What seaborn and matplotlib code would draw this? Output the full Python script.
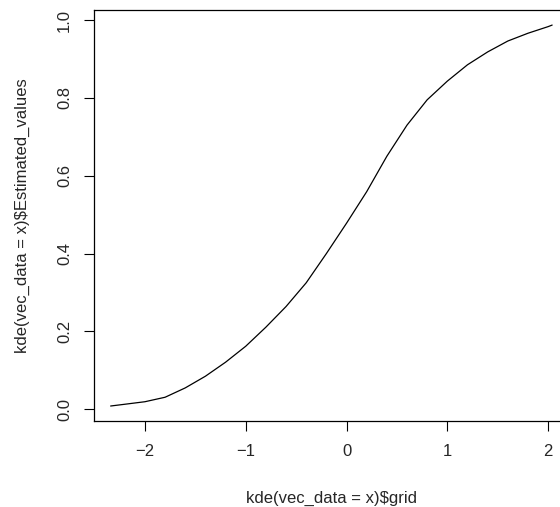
import matplotlib
matplotlib.use("Agg")
import matplotlib.pyplot as plt
import seaborn as sns
import pandas as pd

grid = [-2.34, -2.2, -2.0, -1.8, -1.6, -1.4, -1.2, -1.0, -0.8, -0.6, -0.4,
        -0.2, 0.0, 0.2, 0.4, 0.6, 0.8, 1.0, 1.2, 1.4, 1.6, 1.8, 2.0, 2.04]
estimated_values = [0.0085, 0.013, 0.0195, 0.031, 0.055, 0.085, 0.121, 0.162,
                    0.211, 0.264, 0.325, 0.400, 0.478, 0.559, 0.650, 0.730,
                    0.795, 0.843, 0.885, 0.918, 0.946, 0.966, 0.983, 0.987]
x_ticks = [-2, -1, 0, 1, 2]
y_ticks = [0.0, 0.2, 0.4, 0.6, 0.8, 1.0]

sns.set_style("white")
plt.rcParams['font.family'] = ['Liberation Sans', 'DejaVu Sans']

df = pd.DataFrame({"grid": grid, "val": estimated_values})

W, H = 560, 507
fig = plt.figure(figsize=(W / 100, H / 100), dpi=100)
left, right_px, top, bottom = 93.5, 569.3, 10, 421
ax = fig.add_axes([left / W, (H - bottom) / H, (right_px - left) / W, (bottom - top) / H])

sns.lineplot(data=df, x="grid", y="val", ax=ax, color="black", linewidth=0.9)

ax.set_xlim(-2.51, 2.21)
ax.set_ylim(-0.030, 1.0257)
ax.set_xticks(x_ticks)
ax.set_xticklabels(["\u22122", "\u22121", "0", "1", "2"])
ax.set_yticks(y_ticks)
ax.set_yticklabels(["0.0", "0.2", "0.4", "0.6", "0.8", "1.0"], rotation=90, va="center")

fs = 12.0
ax.tick_params(axis="both", direction="out", length=7.3, width=0.8, color="black",
               labelsize=fs, pad=9, bottom=True, left=True)
ax.tick_params(axis="y", pad=8)
for s in ax.spines.values():
    s.set_color("black")
    s.set_linewidth(0.9)

ax.set_xlabel("kde(vec_data = x)$grid", fontsize=fs, va="center")
ax.set_ylabel("kde(vec_data = x)$Estimated_values", fontsize=fs, va="center")
ax.xaxis.set_label_coords((332 - left) / (right_px - left), (bottom - 498) / (bottom - top))
ax.yaxis.set_label_coords((22 - left) / (right_px - left), 0.5)

fig.savefig("out.png", dpi=100)
